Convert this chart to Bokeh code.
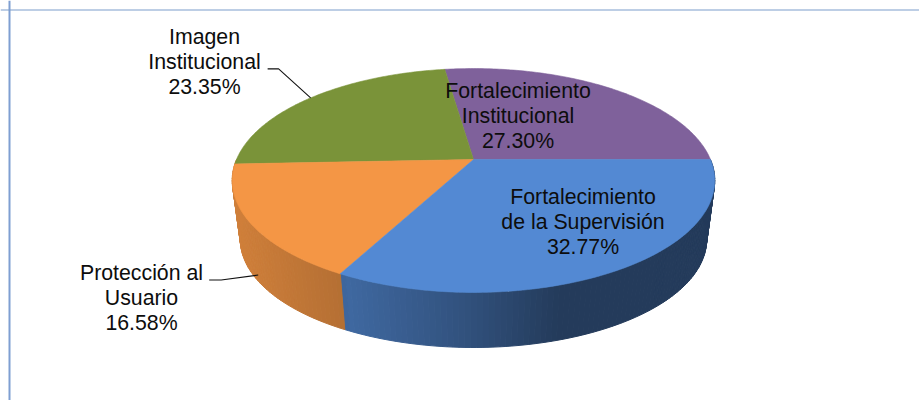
import numpy as np
from bokeh.core.properties import value
from bokeh.embed import file_html
from bokeh.models import Range1d, Span
from bokeh.plotting import figure
from bokeh.resources import INLINE

# data (clockwise from the east, as drawn)
labels = [
    ["Fortalecimiento", "de la Supervisión", "32.77%"],
    ["Protección al", "Usuario", "16.58%"],
    ["Imagen", "Institucional", "23.35%"],
    ["Fortalecimiento", "Institucional", "27.30%"],
]
shares = [32.77, 16.58, 23.35, 27.30]

# styles
colors = ["#5389D3", "#F49645", "#7A9339", "#7F619B"]
label_x = [582.5, 141, 204, 517.5]
label_y = [221, 297, 61, 115]
LINE_GAP = 25
FONT = value("Liberation Sans")
FONT_SIZE = "21.3px"

# projection of the pie disc
CX, TOP_Y, BOT_Y = 473, 159, 219
R_TOP, G_TOP = 237, 108
R_BOT, G_BOT = 229, 104
K = 0.1875


def project(deg, y0, r, g):
    t = np.radians(deg)
    u, v = np.cos(t), -np.sin(t)
    d = 1 + K * v
    return CX + r * u / d, y0 - g * v / d


def top(deg):
    return project(deg, TOP_Y, R_TOP, G_TOP)


def bottom(deg):
    return project(deg, BOT_Y, R_BOT, G_BOT)


edges = np.concatenate([[0], np.cumsum(shares)]) / sum(shares) * 360

W, H = 919, 400
p = figure(width=W, height=H, x_range=Range1d(0, W), y_range=Range1d(H, 0),
           output_backend="svg", toolbar_location=None, min_border=0)
p.axis.visible = False
p.grid.visible = False
p.outline_line_color = None
p.background_fill_color = "white"

p.add_layout(Span(location=9, dimension="height", line_color="#7F9FD2", line_width=2))
p.add_layout(Span(location=9.5, dimension="width", line_color="#7D9DCC", line_width=1.2))


def rgb(base, f):
    c = [int(base[i:i + 2], 16) for i in (1, 3, 5)]
    return "#%02x%02x%02x" % tuple(int(round(x * f)) for x in c)


# side wall, front half of the disc only, darkening to the right
shade_x = [232, 341, 345, 460, 560, 715]
shade_f = [0.85, 0.74, 0.76, 0.60, 0.43, 0.43]
wx, wy, wc = [], [], []
for i, (a, b) in enumerate([(edges[0], edges[1]), (edges[1], 180)]):
    steps = np.linspace(a, b, int((b - a) / 1.2) + 2)
    for s, e in zip(steps[:-1], steps[1:]):
        tx0, ty0 = top(s)
        tx1, ty1 = top(e)
        bx0, by0 = bottom(s)
        bx1, by1 = bottom(e)
        wx.append([tx0, tx1, bx1, bx0])
        wy.append([ty0, ty1, by1, by0])
        wc.append(rgb(colors[i], float(np.interp((tx0 + tx1) / 2, shade_x, shade_f))))
p.patches(wx, wy, fill_color=wc, line_color=wc, line_width=1)

# top face
for i in [3, 2, 1, 0]:
    arc = np.linspace(edges[i], edges[i + 1], 120)
    ax, ay = top(arc)
    p.patch(np.r_[CX, ax], np.r_[TOP_Y, ay], fill_color=colors[i], line_color=colors[i], line_width=0.6)

# leader lines, anchored on the slices' mid angles
mid_green = (edges[2] + edges[3]) / 2
gx, gy = top(mid_green)
p.line([gx - 43, gx - 32, gx], [gy - 29, gy - 29, gy], line_color="#111111", line_width=1.1)
mid_orange = (edges[1] + edges[2]) / 2
ox, oy = bottom(mid_orange)
p.line([ox - 49, ox - 37, ox], [oy - 1, oy - 1, oy - 6], line_color="#111111", line_width=1.1)

tx, ty, tt = [], [], []
for xc, yc, lines in zip(label_x, label_y, labels):
    for j, line in enumerate(lines):
        tx.append(xc)
        ty.append(yc + (j - 1) * LINE_GAP)
        tt.append(line)
p.text(tx, ty, text=tt, text_font=FONT, text_font_size=FONT_SIZE, text_color="#0d0d0d",
       text_align="center", text_baseline="middle")

open("out.html", "w").write(file_html(p, INLINE))
